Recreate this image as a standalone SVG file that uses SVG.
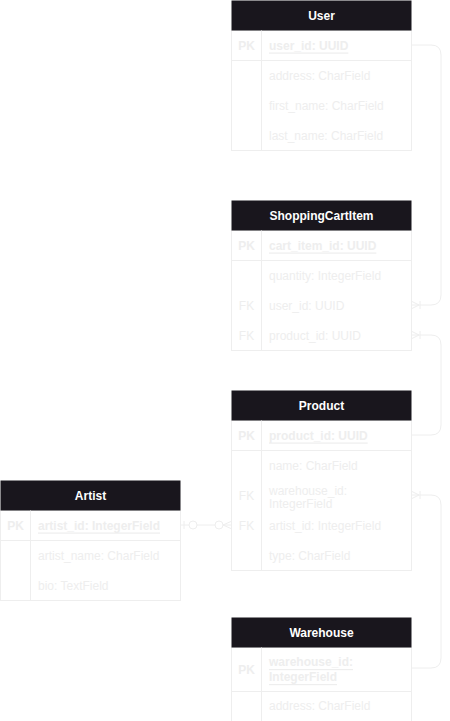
<svg xmlns="http://www.w3.org/2000/svg" width="450" height="721" viewBox="0 0 450 721">
<style>
.hdr{fill:#19161d}
.box{fill:#ffffff;stroke:#eeeeee;stroke-width:1}
.ln{stroke:#eeeeee;stroke-width:1;fill:none}
.ttl{font-family:"Liberation Sans",Arial,sans-serif;font-size:12px;font-weight:bold;fill:#ffffff;text-anchor:middle;dominant-baseline:central}
.key{font-family:"Liberation Sans",Arial,sans-serif;font-size:12px;font-weight:bold;fill:#eeeeee;text-anchor:middle;dominant-baseline:central}
.fk{font-family:"Liberation Sans",Arial,sans-serif;font-size:12px;fill:#eeeeee;text-anchor:middle;dominant-baseline:central}
.pk{font-family:"Liberation Sans",Arial,sans-serif;font-size:12px;font-weight:bold;fill:#eeeeee;text-decoration:underline;dominant-baseline:central}
.at{font-family:"Liberation Sans",Arial,sans-serif;font-size:12px;fill:#eeeeee;dominant-baseline:central}
.conn{stroke:#eeeeee;stroke-width:1;fill:none}
</style>

<g id="connectors">
<path class="conn" d="M411,45 L431,45 Q441,45 441,55 L441,295 Q441,305 431,305 L411,305"/>
<path class="conn" d="M411,435 L431,435 Q441,435 441,425 L441,345 Q441,335 431,335 L411,335"/>
<path class="conn" d="M411,668 L431,668 Q441,668 441,658 L441,505 Q441,495 431,495 L411,495"/>
<g class="conn">
<path d="M411,301 L419,305 L411,309 M420,301 L420,309"/>
<path d="M411,331 L419,335 L411,339 M420,331 L420,339"/>
<path d="M411,491 L419,495 L411,499 M420,491 L420,499"/>
</g>
<g class="conn">
<path d="M180,525 L189,525 M197,525 L215,525 M223,525 L232,525"/>
<path d="M184,521 L184,529"/>
<circle cx="193" cy="525" r="4"/>
<circle cx="219" cy="525" r="4"/>
<path d="M232,521 L223,525 L232,529"/>
</g>
</g>

<g id="User">
<rect class="box" x="231.5" y="30.5" width="180" height="120"/>
<rect class="hdr" x="231.5" y="0.5" width="180" height="30"/>
<line class="ln" x1="261.5" y1="30.5" x2="261.5" y2="150.5"/>
<line class="ln" x1="231.5" y1="60.5" x2="411.5" y2="60.5"/>
<text class="ttl" x="321.5" y="15.5">User</text>
<text class="key" x="246.5" y="45.5">PK</text>
<text class="pk" x="269" y="45.5">user_id: UUID</text>
<text class="at" x="269" y="75.5">address: CharField</text>
<text class="at" x="269" y="105.5">first_name: CharField</text>
<text class="at" x="269" y="135.5">last_name: CharField</text>
</g>

<g id="ShoppingCartItem">
<rect class="box" x="231.5" y="230.5" width="180" height="120"/>
<rect class="hdr" x="231.5" y="200.5" width="180" height="30"/>
<line class="ln" x1="261.5" y1="230.5" x2="261.5" y2="350.5"/>
<line class="ln" x1="231.5" y1="260.5" x2="411.5" y2="260.5"/>
<text class="ttl" x="321.5" y="215.5">ShoppingCartItem</text>
<text class="key" x="246.5" y="245.5">PK</text>
<text class="pk" x="269" y="245.5">cart_item_id: UUID</text>
<text class="at" x="269" y="275.5">quantity: IntegerField</text>
<text class="fk" x="246.5" y="305.5">FK</text>
<text class="at" x="269" y="305.5">user_id: UUID</text>
<text class="fk" x="246.5" y="335.5">FK</text>
<text class="at" x="269" y="335.5">product_id: UUID</text>
</g>

<g id="Product">
<rect class="box" x="231.5" y="420.5" width="180" height="150"/>
<rect class="hdr" x="231.5" y="390.5" width="180" height="30"/>
<line class="ln" x1="261.5" y1="420.5" x2="261.5" y2="570.5"/>
<line class="ln" x1="231.5" y1="450.5" x2="411.5" y2="450.5"/>
<text class="ttl" x="321.5" y="405.5">Product</text>
<text class="key" x="246.5" y="435.5">PK</text>
<text class="pk" x="269" y="435.5">product_id: UUID</text>
<text class="at" x="269" y="465.5">name: CharField</text>
<text class="fk" x="246.5" y="495.5">FK</text>
<text class="at" x="269" y="490.5">warehouse_id:</text>
<text class="at" x="269" y="504">IntegerField</text>
<text class="fk" x="246.5" y="525.5">FK</text>
<text class="at" x="269" y="525.5">artist_id: IntegerField</text>
<text class="at" x="269" y="555.5">type: CharField</text>
</g>

<g id="Artist">
<rect class="box" x="0.5" y="510.5" width="180" height="90"/>
<rect class="hdr" x="0.5" y="480.5" width="180" height="30"/>
<line class="ln" x1="30.5" y1="510.5" x2="30.5" y2="600.5"/>
<line class="ln" x1="0.5" y1="540.5" x2="180.5" y2="540.5"/>
<text class="ttl" x="90.5" y="495.5">Artist</text>
<text class="key" x="15.5" y="525.5">PK</text>
<text class="pk" x="38" y="525.5">artist_id: IntegerField</text>
<text class="at" x="38" y="555.5">artist_name: CharField</text>
<text class="at" x="38" y="585.5">bio: TextField</text>
</g>

<g id="Warehouse">
<rect class="box" x="231.5" y="647.5" width="180" height="74"/>
<rect class="hdr" x="231.5" y="617.5" width="180" height="30"/>
<line class="ln" x1="261.5" y1="647.5" x2="261.5" y2="721.5"/>
<line class="ln" x1="231.5" y1="691.5" x2="411.5" y2="691.5"/>
<text class="ttl" x="321.5" y="632.5">Warehouse</text>
<text class="key" x="246.5" y="669.5">PK</text>
<text class="pk" x="269" y="662">warehouse_id:</text>
<text class="pk" x="269" y="677">IntegerField</text>
<text class="at" x="269" y="705.5">address: CharField</text>
</g>
</svg>
